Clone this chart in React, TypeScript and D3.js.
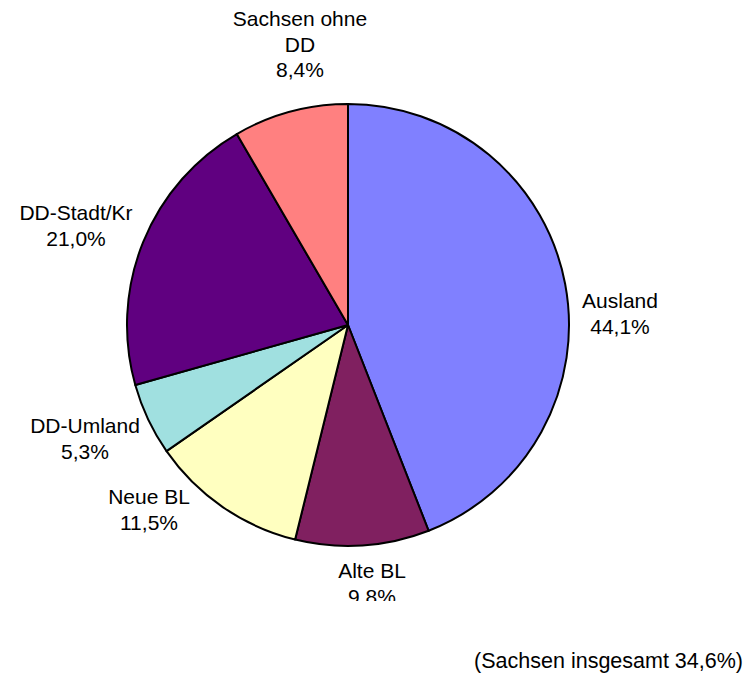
import React from "react";
import * as d3 from "d3";

const categories = ["Ausland", "Alte BL", "Neue BL", "DD-Umland", "DD-Stadt/Kr", "Sachsen ohne DD"];
const values = [44.1, 9.8, 11.5, 5.3, 21.0, 8.4];
const valueLabels = ["44,1%", "9,8%", "11,5%", "5,3%", "21,0%", "8,4%"];
const labelLines = [["Ausland"], ["Alte BL"], ["Neue BL"], ["DD-Umland"], ["DD-Stadt/Kr"], ["Sachsen ohne", "DD"]];
const colors = ["#8080FF", "#802060", "#FFFFC0", "#A0E0E0", "#600080", "#FF8080"];
const footnote = "(Sachsen insgesamt 34,6%)";

// layout: label first-line baseline positions (center x)
const labelPos: [number, number][] = [
  [620, 308],
  [372, 578],
  [149, 504],
  [85, 433],
  [76, 220],
  [300, 26],
];

const W = 749;
const H = 677;
const cx = 348;
const cy = 325;
const R = 221;
const LINE = 25.5;
const FONT = "'Liberation Sans', Arial, sans-serif";

export default function App() {
  const pie = d3
    .pie<number>()
    .sort(null)
    .value((d) => d)
    .startAngle(0)
    .endAngle(2 * Math.PI);
  const arcs = pie(values);
  const arc = d3.arc<d3.PieArcDatum<number>>().innerRadius(0).outerRadius(R);

  return (
    <svg
      width={W}
      height={H}
      style={{ position: "absolute", left: 0, top: 0, background: "#fff" }}
      fontFamily={FONT}
    >
      <defs>
        <clipPath id="plotClip">
          <rect x={0} y={0} width={W} height={601} />
        </clipPath>
      </defs>
      <rect x={0} y={0} width={W} height={H} fill="#fff" />
      <g clipPath="url(#plotClip)">
        <g transform={`translate(${cx},${cy})`}>
          {arcs.map((a, i) => (
            <path
              key={categories[i]}
              d={arc(a) || ""}
              fill={colors[i]}
              stroke="#000"
              strokeWidth={2}
              strokeLinejoin="round"
            />
          ))}
        </g>
        {categories.map((c, i) => {
          const lines = [...labelLines[i], valueLabels[i]];
          const [x, y] = labelPos[i];
          return (
            <text key={c} x={x} y={y} textAnchor="middle" fontSize={21} fill="#000">
              {lines.map((l, j) => (
                <tspan key={j} x={x} y={y + j * LINE}>
                  {l}
                </tspan>
              ))}
            </text>
          );
        })}
      </g>
      <text x={743} y={668} textAnchor="end" fontSize={21.5} fill="#000">
        {footnote}
      </text>
    </svg>
  );
}
